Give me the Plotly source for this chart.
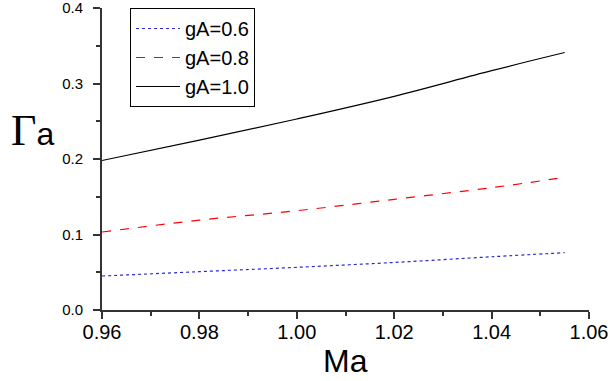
import plotly.graph_objects as go

ma = [0.96, 0.98, 1.00, 1.02, 1.04, 1.055]
g06 = [0.045, 0.0508, 0.0565, 0.063, 0.0705, 0.0759]
g08 = [0.1033, 0.119, 0.1315, 0.1466, 0.162, 0.1757]
g10 = [0.198, 0.225, 0.253, 0.283, 0.317, 0.341]

names = ["gA=0.6", "gA=0.8", "gA=1.0"]
xticks = [0.96, 0.98, 1.00, 1.02, 1.04, 1.06]
xticktext = ["0.96", "0.98", "1.00", "1.02", "1.04", "1.06"]
yticks = [0.0, 0.1, 0.2, 0.3, 0.4]
yticktext = ["0.0", "0.1", "0.2", "0.3", "0.4"]

FONT = "Liberation Sans, Arial, sans-serif"

fig = go.Figure()
fig.add_trace(go.Scatter(x=ma, y=g06, name=names[0], mode="lines",
                         line=dict(color="#2a2ad0", width=1.2, dash="dot", shape="spline")))
fig.add_trace(go.Scatter(x=ma, y=g08, name=names[1], mode="lines",
                         line=dict(color="#ff0000", width=1.2, dash="dash", shape="spline")))
fig.add_trace(go.Scatter(x=ma, y=g10, name=names[2], mode="lines",
                         line=dict(color="#000000", width=1.2, shape="spline")))

axis_common = dict(
    showgrid=False, zeroline=False, showline=True, linecolor="#333333", linewidth=2,
    ticks="outside", ticklen=7, tickwidth=1.5, tickcolor="#333333",
    mirror=False, automargin=False, ticklabeloverflow="allow",
)

fig.update_layout(
    width=608, height=381,
    margin=dict(l=102, r=19, t=8, b=71),
    paper_bgcolor="white", plot_bgcolor="white",
    font=dict(family=FONT, color="black"),
    showlegend=True,
    legend=dict(
        x=(130 - 102) / 487, y=1.0, xanchor="left", yanchor="top",
        bordercolor="black", borderwidth=1, bgcolor="white",
        font=dict(family=FONT, size=20, color="black"),
        itemwidth=44, tracegroupgap=0,
    ),
    xaxis=dict(
        range=[0.96, 1.06], tickmode="array", tickvals=xticks, ticktext=xticktext,
        tickfont=dict(family=FONT, size=20, color="black"),
        ticklabelstandoff=-4,
        minor=dict(ticks="outside", ticklen=4, dtick=0.01, tick0=0.96, tickcolor="#333333", tickwidth=1.5),
        **axis_common,
    ),
    yaxis=dict(
        range=[0, 0.4], tickmode="array", tickvals=yticks, ticktext=yticktext,
        tickfont=dict(family=FONT, size=15, color="black"),
        ticklabelstandoff=7,
        minor=dict(ticks="outside", ticklen=4, dtick=0.05, tick0=0, tickcolor="#333333", tickwidth=1.5),
        **axis_common,
    ),
)

fig.add_annotation(
    xref="paper", yref="paper", x=0, y=(310 - 130) / 302,
    xanchor="right", yanchor="middle", xshift=-46, showarrow=False,
    text="<span style='font-family:Liberation Serif, Times New Roman, serif; font-size:44px'>Γ</span>a",
    font=dict(family=FONT, size=32, color="black"),
)
fig.add_annotation(
    xref="paper", yref="paper", x=0.5, y=(310 - 361) / 302,
    xanchor="center", yanchor="middle", showarrow=False,
    text="Ma",
    font=dict(family=FONT, size=32, color="black"),
)

fig.write_html("out.html", config={"displayModeBar": False},
               post_script="document.body.style.margin='0';document.body.style.overflow='hidden';")
